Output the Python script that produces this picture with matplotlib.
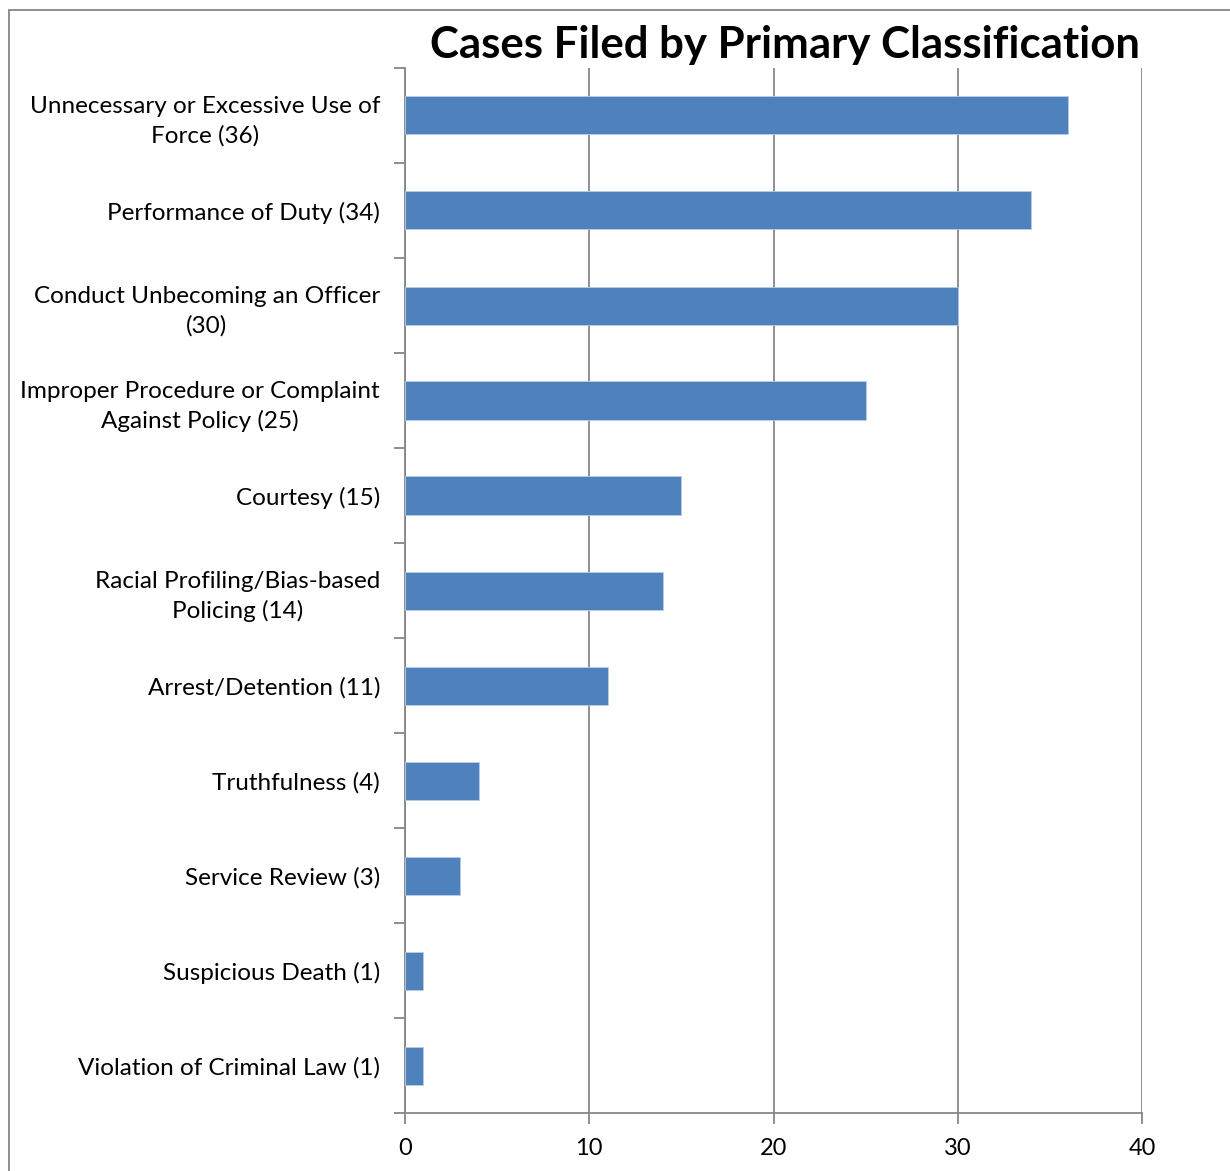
import numpy as np
import matplotlib.pyplot as plt
from matplotlib.patches import Rectangle

categories = [
    "Unnecessary or Excessive Use of\nForce (36)",
    "Performance of Duty (34)",
    "Conduct Unbecoming an Officer\n(30)",
    "Improper Procedure or Complaint\nAgainst Policy (25)",
    "Courtesy (15)",
    "Racial Profiling/Bias-based\nPolicing (14)",
    "Arrest/Detention (11)",
    "Truthfulness (4)",
    "Service Review (3)",
    "Suspicious Death (1)",
    "Violation of Criminal Law (1)",
]
counts = [36, 34, 30, 25, 15, 14, 11, 4, 3, 1, 1]
x_ticks = [0, 10, 20, 30, 40]

plt.rcParams['font.family'] = ['Lato', 'DejaVu Sans']
grey = '#868686'

fig = plt.figure(figsize=(12.3, 11.71), dpi=100)
ax = fig.add_axes([405 / 1230, 1 - 1113 / 1171, 737 / 1230, 1045 / 1171])

n = len(categories)
ypos = np.arange(n)[::-1]
ax.barh(ypos, counts, height=0.4, color='#4F81BD', edgecolor='#B9CDE5', linewidth=0.6, zorder=3)

ax.set_xlim(0, 40)
ax.set_ylim(-0.5, n - 0.5)
ax.set_xticks(x_ticks)
ax.set_xticklabels([str(t) for t in x_ticks], fontsize=17)
ax.xaxis.grid(True, color=grey, linewidth=1.3, zorder=0)

# boundaries get the tick marks, centres get the labels
ax.set_yticks(np.arange(n + 1) - 0.5)
ax.set_yticklabels([])
ax.set_yticks(ypos, minor=True)
ax.set_yticklabels(categories, minor=True, fontsize=17.5, multialignment='center', linespacing=1.45)
ax.tick_params(axis='y', which='minor', length=0, pad=18)
ax.tick_params(axis='y', which='major', length=8, color=grey, width=1.3, direction='out')
ax.tick_params(axis='x', length=8, color=grey, width=1.3, direction='out', pad=10)

for s in ['top', 'right']:
    ax.spines[s].set_visible(False)
for s in ['left', 'bottom']:
    ax.spines[s].set_color(grey)
    ax.spines[s].set_linewidth(1.3)

fig.text(785 / 1230, 1 - 45 / 1171, "Cases Filed by Primary Classification",
         ha='center', va='center', fontsize=31.5, fontweight='bold')

fig.patches.append(Rectangle((9 / 1230, -0.1), 1.2, 1.1 - 10 / 1171, transform=fig.transFigure,
                             fill=False, edgecolor=grey, linewidth=1.3))

fig.savefig('out.png', dpi=100)
